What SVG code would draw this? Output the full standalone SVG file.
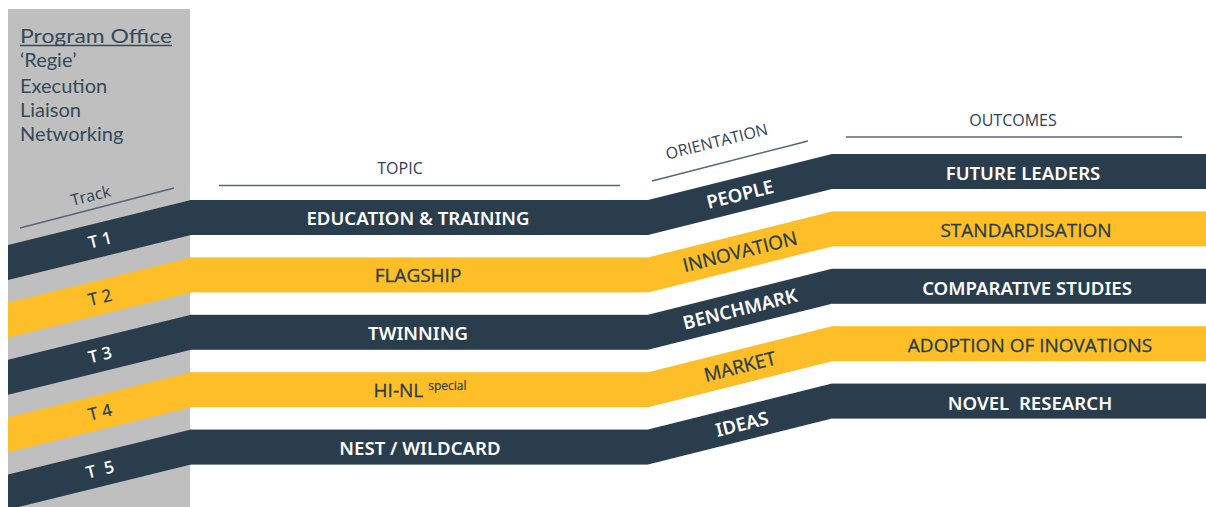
<svg xmlns="http://www.w3.org/2000/svg" width="1206" height="507" viewBox="0 0 1206 507">
<style>
.navy{fill:#2a3d4d}
.gold{fill:#fdbe27}
.lbl{font-family:"Open Sans","DejaVu Sans",sans-serif;font-size:19px;text-anchor:middle}
.w{fill:#ffffff;font-family:"Noto Sans","Open Sans",sans-serif;font-weight:600;font-size:18.6px}
.d{fill:#2a3d4d;font-weight:400;stroke:#2a3d4d;stroke-width:0.3}
.hd{font-family:"Open Sans","DejaVu Sans",sans-serif;font-size:16px;fill:#2f4152;text-anchor:middle}
.po{font-family:Lato,"Open Sans",sans-serif;font-size:20px;fill:#34495a}
.rule{stroke:#56667a;stroke-width:1.6;fill:none}
.tl{font-family:"Open Sans","DejaVu Sans",sans-serif;font-size:17px;text-anchor:middle}
</style>
<rect id="panel" x="8" y="9" width="182" height="498" fill="#bfbfbf"/>
<g id="office">
<text class="po" x="20" y="43" textLength="152" lengthAdjust="spacingAndGlyphs">Program Office</text>
<line x1="20" y1="45.5" x2="172" y2="45.5" stroke="#34495a" stroke-width="1.5"/>
<text class="po" x="20" y="67">‘Regie’</text>
<text class="po" x="20" y="93">Execution</text>
<text class="po" x="20" y="117">Liaison</text>
<text class="po" x="20" y="141">Networking</text>
</g>
<g id="headings">
<text class="hd" transform="translate(92,201) rotate(-14)" x="0" y="0">Track</text>
<line class="rule" x1="20" y1="228" x2="174" y2="188"/>
<text class="hd" x="400" y="174">TOPIC</text>
<line class="rule" x1="219" y1="185.5" x2="620" y2="185.5"/>
<text class="hd" transform="translate(718,147) rotate(-14)" x="0" y="0">ORIENTATION</text>
<line class="rule" x1="652" y1="181" x2="808" y2="141"/>
<text class="hd" x="1013" y="126">OUTCOMES</text>
<line class="rule" x1="846" y1="137" x2="1182" y2="137"/>
</g>
<g id="connectors"/>
<g id="track-T1">
<polygon class="navy" points="8,245 191,200 191,235 8,280"/>
<text class="tl w" transform="translate(100,240) rotate(-14)" y="6">T 1</text>
</g>
<g id="track-T2">
<polygon class="gold" points="8,302.4 191,257.4 191,292.4 8,337.4"/>
<text class="tl d" transform="translate(100,297.3) rotate(-14)" y="6">T 2</text>
</g>
<g id="track-T3">
<polygon class="navy" points="8,359.8 191,314.8 191,349.8 8,394.8"/>
<text class="tl w" transform="translate(100,354.7) rotate(-14)" y="6">T 3</text>
</g>
<g id="track-T4">
<polygon class="gold" points="8,417.2 191,372.2 191,407.2 8,452.2"/>
<text class="tl d" transform="translate(100,412.1) rotate(-14)" y="6">T 4</text>
</g>
<g id="track-T5">
<polygon class="navy" points="8,474.6 191,429.6 191,464.6 8,509.6"/>
<text class="tl w" transform="translate(100,469.5) rotate(-14)" y="6" xml:space="preserve">T  5</text>
</g>
<g id="topic-education">
<rect class="navy" x="190" y="200" width="458" height="35"/>
<text class="lbl w" x="418" y="225">EDUCATION &amp; TRAINING</text>
</g>
<g id="topic-flagship">
<rect class="gold" x="190" y="257.4" width="458" height="35"/>
<text class="lbl d" x="418" y="282.4">FLAGSHIP</text>
</g>
<g id="topic-twinning">
<rect class="navy" x="190" y="314.8" width="458" height="35"/>
<text class="lbl w" x="418" y="339.8">TWINNING</text>
</g>
<g id="topic-hinl">
<rect class="gold" x="190" y="372.2" width="458" height="35"/>
<text class="lbl d" x="420" y="397.2">HI-NL <tspan font-size="12" dy="-7" stroke-width="0.2">special</tspan></text>
</g>
<g id="topic-nest">
<rect class="navy" x="190" y="429.6" width="458" height="35"/>
<text class="lbl w" x="420" y="454.6">NEST / WILDCARD</text>
</g>
<g id="orientation-people">
<polygon class="navy" points="648,200 832,154 832,189 648,235"/>
<text class="lbl w" transform="translate(740,194.5) rotate(-14)" y="6.5">PEOPLE</text>
</g>
<g id="orientation-innovation">
<polygon class="gold" points="648,257.4 832,211.4 832,246.4 648,292.4"/>
<text class="lbl d" transform="translate(740,251.9) rotate(-14)" y="6.5">INNOVATION</text>
</g>
<g id="orientation-benchmark">
<polygon class="navy" points="648,314.8 832,268.8 832,303.8 648,349.8"/>
<text class="lbl w" transform="translate(740,309.3) rotate(-14)" y="6.5">BENCHMARK</text>
</g>
<g id="orientation-market">
<polygon class="gold" points="648,372.2 832,326.2 832,361.2 648,407.2"/>
<text class="lbl d" transform="translate(740,366.7) rotate(-14)" y="6.5">MARKET</text>
</g>
<g id="orientation-ideas">
<polygon class="navy" points="648,429.6 832,383.6 832,418.6 648,464.6"/>
<text class="lbl w" transform="translate(742,424.1) rotate(-14)" y="6.5">IDEAS</text>
</g>
<g id="outcome-future-leaders">
<rect class="navy" x="832" y="154" width="374" height="35"/>
<text class="lbl w" x="1023" y="180">FUTURE LEADERS</text>
</g>
<g id="outcome-standardisation">
<rect class="gold" x="832" y="211.4" width="374" height="35"/>
<text class="lbl d" x="1026" y="237.4">STANDARDISATION</text>
</g>
<g id="outcome-comparative">
<rect class="navy" x="832" y="268.8" width="374" height="35"/>
<text class="lbl w" x="1027" y="294.8">COMPARATIVE STUDIES</text>
</g>
<g id="outcome-adoption">
<rect class="gold" x="832" y="326.2" width="374" height="35"/>
<text class="lbl d" x="1030" y="352.2">ADOPTION OF INOVATIONS</text>
</g>
<g id="outcome-novel">
<rect class="navy" x="832" y="383.6" width="374" height="35"/>
<text class="lbl w" x="1030" y="409.6" xml:space="preserve">NOVEL  RESEARCH</text>
</g>
</svg>
